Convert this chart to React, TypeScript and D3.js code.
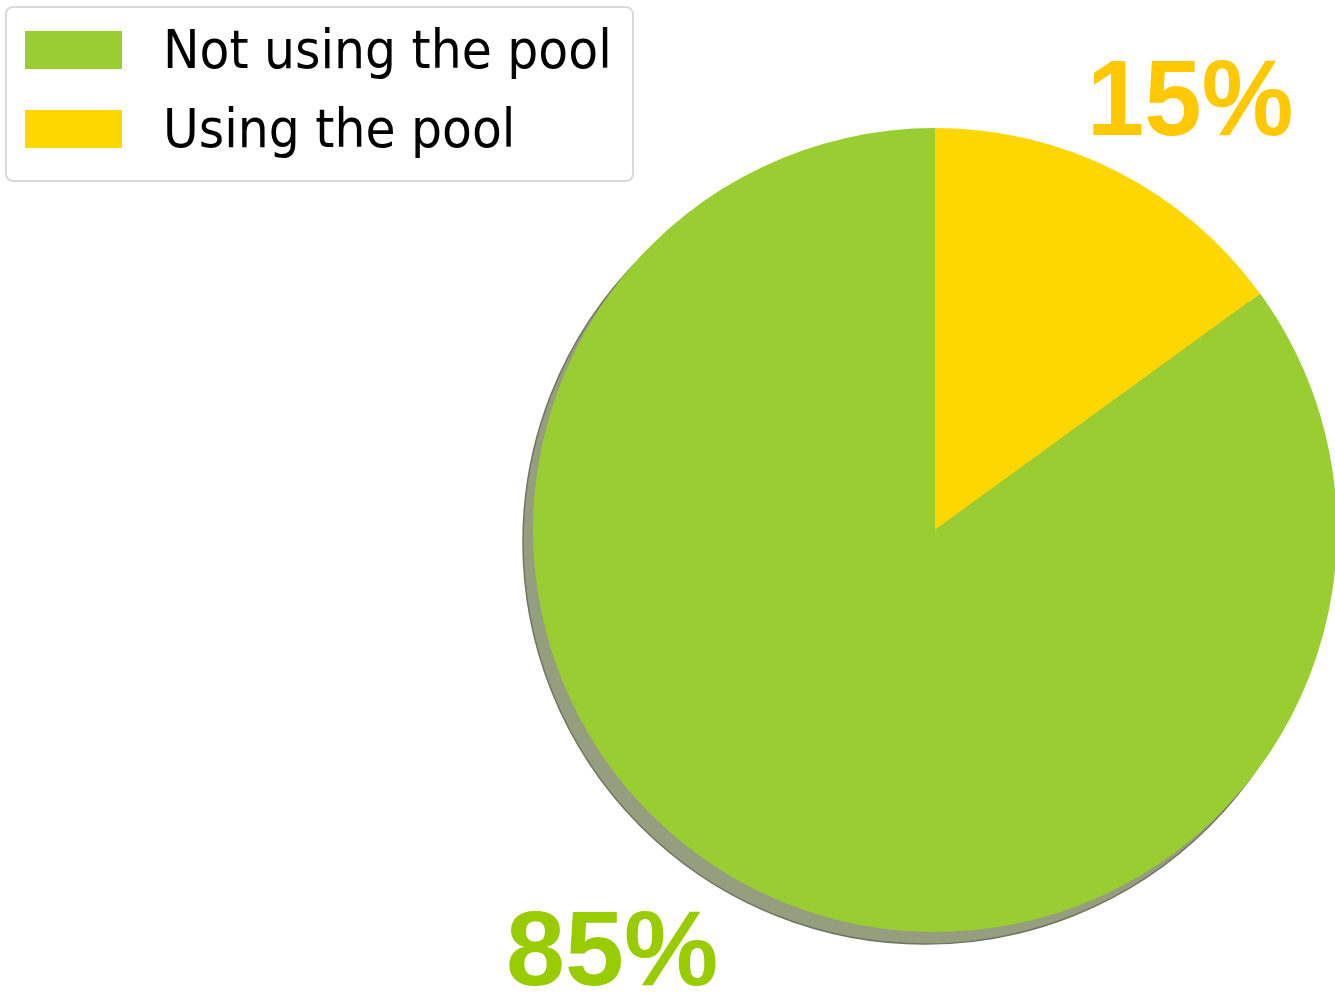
import React from "react";
import * as d3 from "d3";

const categories = ["Using the pool", "Not using the pool"];
const values = [15, 85];
const colors = ["#FFD700", "#9ACD32"];
const labelColors = ["#FFC800", "#99CC00"];
const legendOrder = ["Not using the pool", "Using the pool"];

export default function App() {
  const W = 1335, H = 993;
  const cx = 935, cy = 530, r = 402;
  const pie = d3.pie<number>().sort(null).startAngle(0).endAngle(2 * Math.PI)(values);
  const arc = d3.arc<d3.PieArcDatum<number>>().innerRadius(0).outerRadius(r);
  const colorOf = (c: string) => colors[categories.indexOf(c)];
  return (
    <svg width={W} height={H} style={{ position: "absolute", left: 0, top: 0, background: "#fff" }}>
      <g transform={`translate(${cx - 10},${cy + 12})`}>
        <circle r={r} fill="#969e80" stroke="#6f7560" strokeWidth={1.5} />
      </g>
      <g transform={`translate(${cx},${cy})`}>
        {pie.map((d, i) => (
          <path key={i} d={arc(d) || ""} fill={colors[i]} />
        ))}
      </g>
      <g transform="translate(1087,135) scale(0.955,1)">
        <text x={0} y={0} fontFamily="Liberation Sans, Arial, sans-serif" fontWeight="bold" fontSize={108} fill={labelColors[0]}>
          {values[0]}%
        </text>
      </g>
      <text x={506} y={985} fontFamily="Liberation Sans, Arial, sans-serif" fontWeight="bold" fontSize={106} fill={labelColors[1]}>
        {values[1]}%
      </text>
      <rect x={6} y={7} width={627} height={174} rx={7} fill="#fff" stroke="#d9d9d9" strokeWidth={2} />
      {legendOrder.map((c, i) => (
        <g key={c} transform={`translate(0,${i * 79})`}>
          <rect x={25} y={31} width={97} height={38} fill={colorOf(c)} />
          <g transform="translate(163,68) scale(0.905,1)">
            <text x={0} y={0} fontFamily="DejaVu Sans, sans-serif" fontSize={54} fill="#000">
              {c}
            </text>
          </g>
        </g>
      ))}
    </svg>
  );
}
